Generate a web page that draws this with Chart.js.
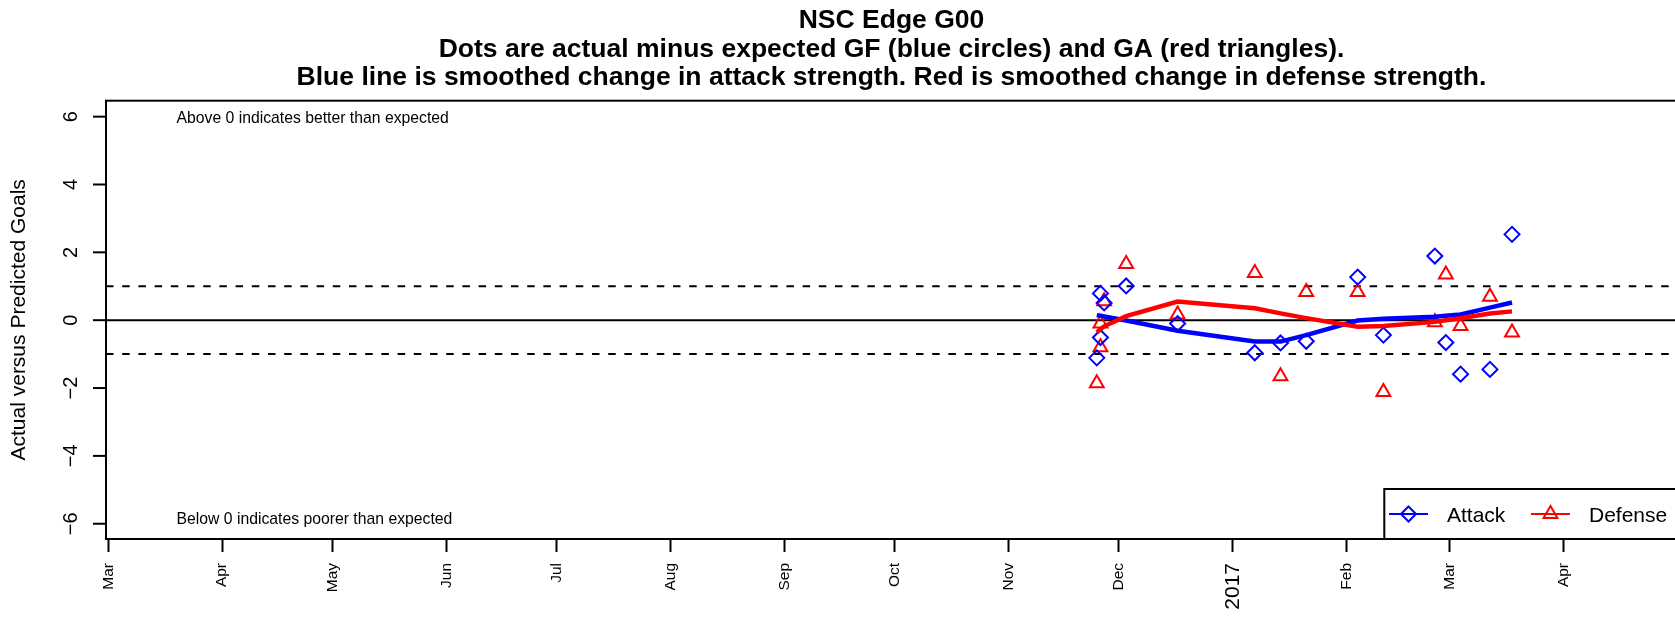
<!DOCTYPE html>
<html lang="en">
<head>
  <meta charset="UTF-8" />
  <title>NSC Edge G00</title>
  <script src="https://cdn.jsdelivr.net/npm/chart.js"></script>
  <style>
    html, body { margin: 0; padding: 0; background: #fff; overflow: hidden; }
    #edgeChart { display: block; }
  </style>
</head>
<body>
<canvas id="edgeChart" width="1690" height="618"></canvas>

<script>
  // game dates and actual-minus-expected goals
  const gameDates = ['2016-11-25', '2016-11-26', '2016-11-26', '2016-11-27', '2016-12-03', '2016-12-17',
    '2017-01-07', '2017-01-14', '2017-01-21', '2017-02-04', '2017-02-11', '2017-02-25',
    '2017-02-28', '2017-03-04', '2017-03-12', '2017-03-18'];
  const attackDiff = [-1.11, 0.79, -0.51, 0.51, 1.01, -0.10, -0.96, -0.67, -0.62, 1.27, -0.44, 1.89,
    -0.66, -1.59, -1.45, 2.53];
  const defenseDiff = [-1.86, -0.80, -0.10, 0.56, 1.66, 0.17, 1.39, -1.65, 0.83, 0.83, -2.12, -0.06,
    1.35, -0.17, 0.69, -0.36];

  // smoothed change in strength
  const attackSmooth = [0.15, 0.13, 0.13, 0.11, -0.01, -0.31, -0.63, -0.63, -0.44, -0.01, 0.04, 0.10,
    0.13, 0.17, 0.37, 0.52];
  const defenseSmooth = [-0.36, -0.27, -0.27, -0.18, 0.12, 0.55, 0.35, 0.20, 0.06, -0.19, -0.17, -0.05,
    0.00, 0.06, 0.20, 0.26];

  // axes
  const monthTicks = ['2016-03-01', '2016-04-01', '2016-05-01', '2016-06-01', '2016-07-01', '2016-08-01',
    '2016-09-01', '2016-10-01', '2016-11-01', '2016-12-01', '2017-01-01', '2017-02-01', '2017-03-01', '2017-04-01'];
  const monthLabels = ['Mar', 'Apr', 'May', 'Jun', 'Jul', 'Aug', 'Sep', 'Oct', 'Nov', 'Dec', '2017', 'Feb', 'Mar', 'Apr'];
  const yTicks = [-6, -4, -2, 0, 2, 4, 6];
  const bandLines = [1, -1];

  const titleLines = [
    'NSC Edge G00',
    'Dots are actual minus expected GF (blue circles) and GA (red triangles).',
    'Blue line is smoothed change in attack strength. Red is smoothed change in defense strength.'
  ];
  const yTitle = 'Actual versus Predicted Goals';
  const noteAbove = 'Above 0 indicates better than expected';
  const noteBelow = 'Below 0 indicates poorer than expected';

  const FONT = '"Liberation Sans", Arial, Helvetica, sans-serif';
  Chart.defaults.font.family = FONT;
  Chart.defaults.color = '#000';

  const toDay = s => Date.parse(s.length === 10 ? s + 'T00:00:00Z' : s + 'Z') / 864e5;
  const toPoints = (dates, vals) => dates.map((d, i) => ({ x: toDay(d), y: vals[i] }));

  function diamond(ctx, x, y, r) {
    ctx.beginPath();
    ctx.moveTo(x - r, y); ctx.lineTo(x, y - r); ctx.lineTo(x + r, y); ctx.lineTo(x, y + r);
    ctx.closePath();
    ctx.stroke();
  }
  function triangle(ctx, x, y, r) {
    ctx.beginPath();
    ctx.moveTo(x, y - r);
    ctx.lineTo(x + r * 0.866, y + r / 2);
    ctx.lineTo(x - r * 0.866, y + r / 2);
    ctx.closePath();
    ctx.stroke();
  }

  const legendItems = [
    { label: 'Attack', color: '#0000ff', mark: diamond, r: 7.5 },
    { label: 'Defense', color: '#ff0000', mark: triangle, r: 8 }
  ];

  // R-style base graphics bits: box, rotated y labels, titles, notes, legend
  const rPlotDecor = {
    id: 'rPlotDecor',
    beforeDatasetsDraw(chart) {
      const { ctx, chartArea: a, scales: { y } } = chart;
      ctx.save();
      ctx.beginPath(); ctx.rect(a.left, a.top, a.width, a.height); ctx.clip();
      ctx.strokeStyle = '#000';
      ctx.lineWidth = 2;
      ctx.setLineDash([7.5, 8.7]);
      bandLines.forEach(v => {
        const py = y.getPixelForValue(v);
        ctx.beginPath(); ctx.moveTo(a.left, py); ctx.lineTo(a.right, py); ctx.stroke();
      });
      ctx.setLineDash([]);
      const p0 = y.getPixelForValue(0);
      ctx.beginPath(); ctx.moveTo(a.left, p0); ctx.lineTo(a.right, p0); ctx.stroke();
      ctx.restore();
    },
    afterDraw(chart) {
      const { ctx, chartArea: a, scales: { y } } = chart;
      ctx.save();
      ctx.strokeStyle = '#000';
      ctx.fillStyle = '#000';
      ctx.lineWidth = 2;
      ctx.strokeRect(a.left, a.top, a.width, a.height);

      // y axis ticks + labels (parallel to axis)
      ctx.font = '20px ' + FONT;
      ctx.textAlign = 'center';
      ctx.textBaseline = 'alphabetic';
      yTicks.forEach(v => {
        const py = y.getPixelForValue(v);
        ctx.beginPath(); ctx.moveTo(a.left - 13, py); ctx.lineTo(a.left, py); ctx.stroke();
        ctx.save();
        ctx.translate(77, py);
        ctx.rotate(-Math.PI / 2);
        ctx.fillText(String(v).replace('-', '\u2212'), 0, 0);
        ctx.restore();
      });

      ctx.save();
      ctx.font = '21px ' + FONT;
      ctx.translate(25, (a.top + a.bottom) / 2);
      ctx.rotate(-Math.PI / 2);
      ctx.fillText(yTitle, 0, 0);
      ctx.restore();

      // main title
      ctx.font = 'bold 26.5px ' + FONT;
      const cx = (a.left + a.right) / 2;
      titleLines.forEach((t, i) => ctx.fillText(t, cx, 28.3 + i * 28.4));

      // notes
      ctx.font = '15.75px ' + FONT;
      ctx.textAlign = 'left';
      ctx.fillText(noteAbove, a.left + 70.5, y.getPixelForValue(6) + 6.7);
      ctx.fillText(noteBelow, a.left + 70.5, y.getPixelForValue(-6) + 0.5);

      // legend, bottom right
      const lx = 1384.3, ly = 489, lh = a.bottom - ly, midY = ly + lh / 2;
      ctx.fillStyle = '#fff';
      ctx.fillRect(lx, ly, a.right - lx, lh);
      ctx.strokeRect(lx, ly, a.right - lx, lh);
      ctx.font = '21px ' + FONT;
      legendItems.forEach((it, i) => {
        const x0 = lx + 4.7 + i * 142;
        ctx.strokeStyle = it.color;
        ctx.lineWidth = 2;
        ctx.beginPath(); ctx.moveTo(x0, midY); ctx.lineTo(x0 + 39, midY); ctx.stroke();
        it.mark(ctx, x0 + 19.5, midY, it.r);
        ctx.fillStyle = '#000';
        ctx.fillText(it.label, x0 + 58, midY + 7.6);
      });
      ctx.restore();
    }
  };

  new Chart(document.getElementById('edgeChart'), {
    type: 'scatter',
    data: {
      datasets: [
        {
          label: 'Defense (smoothed)',
          data: toPoints(gameDates, defenseSmooth),
          showLine: true,
          borderColor: '#ff0000',
          borderWidth: 4.5,
          pointRadius: 0,
          order: 0
        },
        {
          label: 'Attack (smoothed)',
          data: toPoints(gameDates, attackSmooth),
          showLine: true,
          borderColor: '#0000ff',
          borderWidth: 4.5,
          pointRadius: 0,
          order: 1
        },
        {
          label: 'Attack',
          data: toPoints(gameDates, attackDiff),
          pointStyle: 'rectRot',
          pointRadius: 7.5,
          borderColor: '#0000ff',
          backgroundColor: 'rgba(0,0,0,0)',
          borderWidth: 2,
          order: 2
        },
        {
          label: 'Defense',
          data: toPoints(gameDates, defenseDiff),
          pointStyle: 'triangle',
          pointRadius: 8,
          borderColor: '#ff0000',
          backgroundColor: 'rgba(0,0,0,0)',
          borderWidth: 2,
          order: 3
        }
      ]
    },
    options: {
      responsive: false,
      animation: false,
      events: [],
      layout: { padding: { left: 106, top: 100.7, right: 13, bottom: 0 } },
      plugins: {
        legend: { display: false },
        title: { display: false },
        tooltip: { enabled: false }
      },
      scales: {
        x: {
          type: 'linear',
          min: toDay('2016-02-29T09:00:00'),
          max: toDay('2017-05-01T21:36:00'),
          afterBuildTicks: scale => { scale.ticks = monthTicks.map(d => ({ value: toDay(d) })); },
          afterFit: scale => { scale.height = 618 - 539; },
          ticks: {
            autoSkip: false,
            minRotation: 90,
            maxRotation: 90,
            padding: 11,
            color: '#000',
            font: ctx => ({ family: FONT, size: ctx.tick && /^\d{4}$/.test(ctx.tick.label) ? 21 : 15.5 }),
            callback: (v, i) => monthLabels[i]
          },
          grid: { drawOnChartArea: false, drawTicks: true, tickLength: 13, tickWidth: 2, tickColor: '#000' },
          border: { display: false }
        },
        y: { display: false, min: -6.45, max: 6.47 }
      }
    },
    plugins: [rPlotDecor]
  });
</script>
</body>
</html>
